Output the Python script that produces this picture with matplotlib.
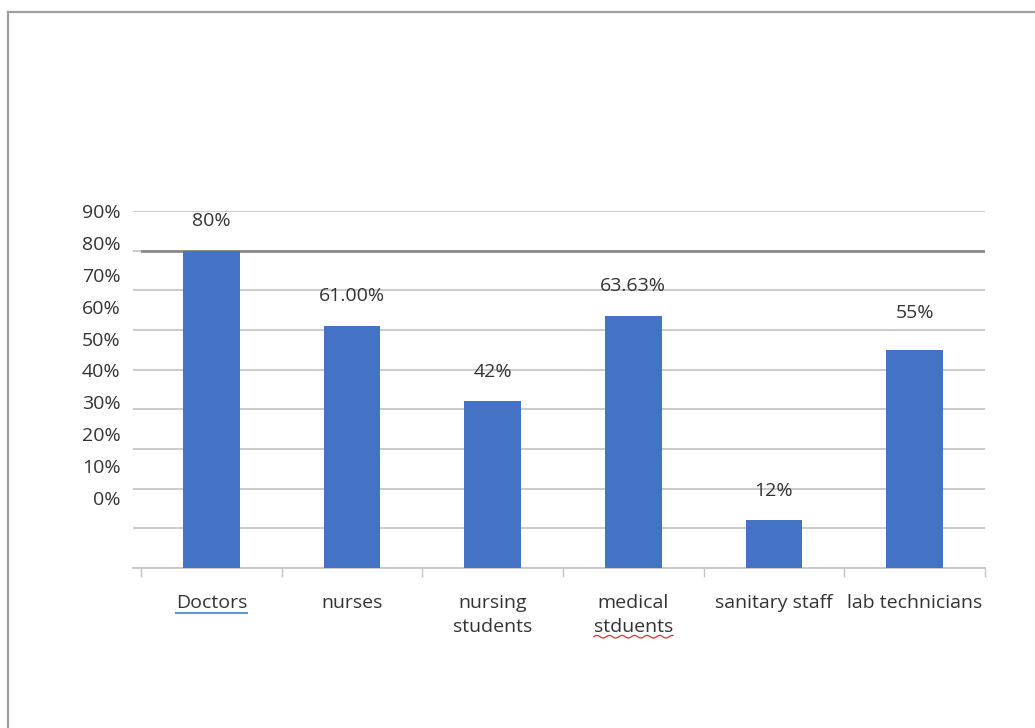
import matplotlib.pyplot as plt
import numpy as np
from matplotlib.lines import Line2D

categories = ['Doctors', 'nurses', 'nursing\nstudents', 'medical\nstduents',
              'sanitary staff', 'lab technicians']
values = [80, 61, 42, 63.63, 12, 55]
value_labels = ['80%', '61.00%', '42%', '63.63%', '12%', '55%']
tick_labels = ['90%', '80%', '70%', '60%', '50%', '40%', '30%', '20%', '10%', '0%']

plt.rcParams['font.family'] = ['Open Sans', 'DejaVu Sans']
BLUE = '#4472C4'
GRID = '#c6c6c6'
TEXT = '#333333'
FS = 14

fig = plt.figure(figsize=(10.35, 7.28), dpi=100)
ax = fig.add_axes([133 / 1035, 160 / 728, 852 / 1035, 357 / 728])

x = np.arange(len(categories))
bars = ax.bar(x, values, width=0.405, color=BLUE, zorder=3)

# value labels above the bars (the last one sits a bit higher in the original)
offsets = [21.5, 21.5, 21, 21.5, 21, 26.5]
for rect, lab, off in zip(bars, value_labels, offsets):
    ax.annotate(lab, (rect.get_x() + rect.get_width() / 2, rect.get_height()),
                xytext=(0, off), textcoords='offset points',
                ha='center', va='center', fontsize=FS, color=TEXT)

ax.set_xlim(-0.5 - 8 / 140.67, len(categories) - 0.5)
ax.set_ylim(0, 90)

# gridlines every 10%, the 80% line is drawn darker
ax.set_yticks(np.arange(0, 91, 10))
ax.set_yticklabels([])
ax.tick_params(axis='y', which='major', length=0)
ax.yaxis.grid(True, color=GRID, linewidth=1.3, zorder=0)
ax.axhline(80, xmin=9 / 852, color='#8a8a8a', linewidth=2, zorder=1)

# y tick labels are squeezed together in the original, not on the gridlines
ax.yaxis.remove_overlapping_locs = False
label_pos = 90 - 8.04 * np.arange(len(tick_labels))
ax.set_yticks(label_pos, minor=True)
ax.set_yticklabels(tick_labels, minor=True)
ax.tick_params(axis='y', which='minor', length=0, pad=9, labelsize=FS, labelcolor=TEXT)

# category boundaries as tick marks on the x axis
ax.set_xticks(np.arange(-0.5, len(categories)), minor=True)
ax.tick_params(axis='x', which='minor', length=6.5, width=1, color=GRID, direction='out')
ax.set_xticks(x)
ax.set_xticklabels(categories, fontsize=FS, color=TEXT, linespacing=1.38)
ax.tick_params(axis='x', which='major', length=0, pad=19)

for s in ['top', 'right', 'left']:
    ax.spines[s].set_visible(False)
ax.spines['bottom'].set_color(GRID)
ax.spines['bottom'].set_linewidth(1.3)
ax.set_axisbelow(True)

# frame of the original document
fig.add_artist(Line2D([8 / 1035, 8 / 1035], [0, 1 - 12 / 728], color='#a0a0a0', linewidth=1.6))
fig.add_artist(Line2D([8 / 1035, 1], [1 - 12 / 728, 1 - 12 / 728], color='#a0a0a0', linewidth=1.6))

# spell-check underlines
fig.canvas.draw()
r = fig.canvas.get_renderer()
labs = ax.get_xticklabels()
bb = labs[0].get_window_extent(r)
fig.add_artist(Line2D([bb.x0, bb.x1], [bb.y0 - 1, bb.y0 - 1], transform=None,
                      color='#5b9bd5', linewidth=1.5))
bb = labs[3].get_window_extent(r)
tmp = fig.text(0, 0, 'stduents', fontsize=FS)
w = tmp.get_window_extent(r).width
tmp.remove()
cx = (bb.x0 + bb.x1) / 2
wx = np.linspace(cx - w / 2, cx + w / 2, 120)
wy = bb.y0 - 1 + 1.3 * np.sin((wx - wx[0]) / 2.0)
fig.add_artist(Line2D(wx, wy, transform=None, color='#e03030', linewidth=0.9))

fig.savefig('out.png', dpi=100, facecolor='white')
